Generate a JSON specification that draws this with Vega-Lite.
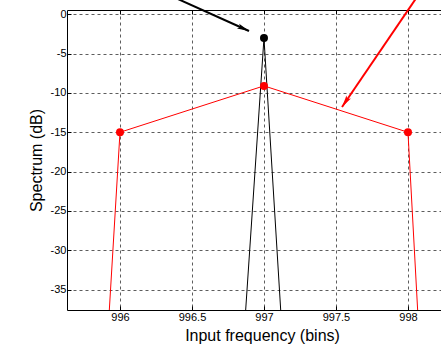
{
  "$schema": "https://vega.github.io/schema/vega-lite/v6.json",
  "width": 380,
  "height": 300,
  "autosize": {"type": "none"},
  "padding": {"left": 67, "top": 10, "right": 0, "bottom": 35},
  "background": "white",
  "view": {"stroke": "transparent"},
  "config": {
    "view": {"stroke": "transparent"},
    "font": "Liberation Sans",
    "axis": {
      "domainColor": "black",
      "domainWidth": 1,
      "tickColor": "black",
      "tickSize": -4,
      "labelFont": "Liberation Sans",
      "labelFontSize": 11,
      "labelColor": "black",
      "titleFont": "Liberation Sans",
      "titleFontSize": 16,
      "titleFontWeight": "normal",
      "titleColor": "black",
      "grid": true,
      "gridColor": "#333333",
      "gridDash": [3, 3],
      "gridWidth": 0.8,
      "gridOpacity": 1
    }
  },
  "datasets": {
    "redline": [
      {"freq": 995, "db": -320},
      {"freq": 996, "db": -15},
      {"freq": 997, "db": -9.1},
      {"freq": 998, "db": -15},
      {"freq": 999, "db": -352}
    ],
    "blackline": [
      {"freq": 996, "db": -275},
      {"freq": 997, "db": -3},
      {"freq": 998, "db": -301}
    ],
    "redpts": [
      {"freq": 996, "db": -15},
      {"freq": 997, "db": -9.1},
      {"freq": 998, "db": -15}
    ],
    "blackpts": [
      {"freq": 997, "db": -3}
    ],
    "arrows": [
      {"series": "black", "x1": 996.34, "y1": 2.46, "x2": 996.896, "y2": -2.12},
      {"series": "red", "x1": 998.072, "y1": 2.46, "x2": 997.542, "y2": -11.79}
    ],
    "heads": [
      {"series": "black", "hx": 996.858, "hy": -1.81, "angle": 114},
      {"series": "red", "hx": 997.565, "hy": -11.16, "angle": 214}
    ]
  },
  "resolve": {"axis": {"x": "independent"}},
  "layer": [
    {
      "data": {"name": "blackline"},
      "mark": {"type": "line", "color": "black", "strokeWidth": 1, "clip": true},
      "encoding": {
        "x": {
          "field": "freq", "type": "quantitative",
          "scale": {"domain": [995.632, 998.271], "nice": false, "zero": false},
          "axis": {"values": [996, 996.5, 997, 997.5, 998], "labelExpr": "'' + datum.value", "title": "Input frequency (bins)", "labelPadding": 5, "titlePadding": 5, "titleX": 195}
        },
        "y": {
          "field": "db", "type": "quantitative",
          "scale": {"domain": [-37.6, 0.55], "nice": false, "zero": false},
          "axis": {"values": [0, -5, -10, -15, -20, -25, -30, -35], "labelExpr": "'' + datum.value", "title": "Spectrum (dB)", "labelPadding": 5, "titlePadding": 6}
        }
      }
    },
    {
      "data": {"name": "redline"},
      "mark": {"type": "line", "color": "#ff0000", "strokeWidth": 1, "clip": true},
      "encoding": {
        "x": {"field": "freq", "type": "quantitative", "axis": null},
        "y": {"field": "db", "type": "quantitative"}
      }
    },
    {
      "data": {"name": "redpts"},
      "mark": {"type": "point", "shape": "circle", "filled": true, "color": "#ff0000", "size": 64, "opacity": 1},
      "encoding": {
        "x": {"field": "freq", "type": "quantitative", "axis": null},
        "y": {"field": "db", "type": "quantitative"}
      }
    },
    {
      "data": {"name": "blackpts"},
      "mark": {"type": "point", "shape": "circle", "filled": true, "color": "black", "size": 64, "opacity": 1},
      "encoding": {
        "x": {"field": "freq", "type": "quantitative", "axis": {"orient": "top", "values": [996, 996.5, 997, 997.5, 998], "labels": false, "title": null, "grid": false, "tickSize": -4}},
        "y": {"field": "db", "type": "quantitative"}
      }
    },
    {
      "data": {"name": "arrows"},
      "mark": {"type": "rule", "strokeWidth": 2, "clip": false},
      "encoding": {
        "x": {"field": "x1", "type": "quantitative", "axis": null},
        "y": {"field": "y1", "type": "quantitative"},
        "x2": {"field": "x2"},
        "y2": {"field": "y2"},
        "color": {"field": "series", "type": "nominal", "scale": {"domain": ["black", "red"], "range": ["black", "#ff0000"]}, "legend": null}
      }
    },
    {
      "data": {"name": "heads"},
      "mark": {"type": "point", "shape": "M0,-1L0.45,1L0,0.6L-0.45,1Z", "filled": true, "size": 144, "opacity": 1, "clip": false},
      "encoding": {
        "x": {"field": "hx", "type": "quantitative", "axis": null},
        "y": {"field": "hy", "type": "quantitative"},
        "angle": {"field": "angle", "type": "quantitative", "scale": null},
        "color": {"field": "series", "type": "nominal", "scale": {"domain": ["black", "red"], "range": ["black", "#ff0000"]}, "legend": null}
      }
    }
  ]
}
